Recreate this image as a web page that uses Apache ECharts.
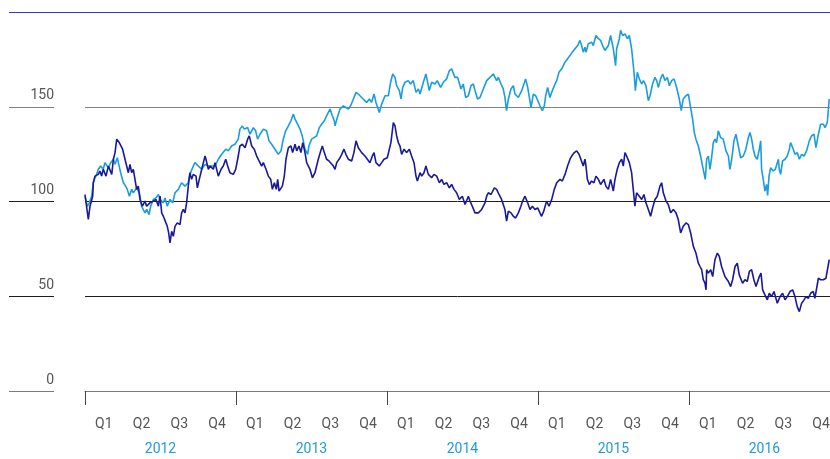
<!DOCTYPE html>
<html><head><meta charset="utf-8">
<script src="https://cdn.jsdelivr.net/npm/echarts@6/dist/echarts.min.js"></script>
<style>html,body{margin:0;padding:0;background:#fff}#c{width:830px;height:459px}</style>
</head><body><div id="c"></div>
<script>
const START = 2012;
const END = 2016.934;
const years = [2012, 2013, 2014, 2015, 2016];
const quarters = ['Q1', 'Q2', 'Q3', 'Q4'];
const yTicks = [0, 50, 100, 150, 200];

// time in years since 1 Jan 2012
const darkT = [0,.022,.033,.051,.055,.066,.088,.099,.110,.121,.139,.155,.177,.188,.199,.210,.216,.227,.236,.249,.265,.276,.287,.298,.309,.320,.331,.342,.353,.364,.380,.397,.408,.430,.453,.470,.486,.497,.508,.519,.536,.545,.554,.563,.574,.585,.596,.611,.629,.640,.651,.662,.673,.684,.695,.706,.717,.735,.744,.757,.773,.795,.801,.817,.828,.850,.861,.883,.901,.916,.932,.945,.960,.982,.998,
1.015,1.026,1.042,1.060,1.077,1.088,1.104,1.121,1.137,1.148,1.170,1.181,1.199,1.214,1.230,1.241,1.254,1.267,1.276,1.285,1.294,1.307,1.320,1.331,1.347,1.364,1.375,1.391,1.402,1.417,1.430,1.442,1.457,1.468,1.490,1.506,1.523,1.545,1.561,1.572,1.585,1.600,1.616,1.629,1.645,1.656,1.667,1.689,1.700,1.715,1.728,1.744,1.766,1.781,1.795,1.810,1.821,1.832,1.854,1.870,1.887,1.903,1.914,1.927,1.949,1.965,1.980,
2.002,2.015,2.026,2.042,2.053,2.064,2.075,2.086,2.097,2.113,2.130,2.148,2.163,2.179,2.192,2.201,2.219,2.230,2.245,2.258,2.274,2.296,2.311,2.329,2.347,2.362,2.377,2.395,2.413,2.428,2.444,2.461,2.479,2.483,2.499,2.517,2.539,2.550,2.565,2.583,2.605,2.627,2.649,2.660,2.671,2.689,2.711,2.726,2.742,2.759,2.781,2.792,2.804,2.821,2.837,2.852,2.870,2.887,2.898,2.914,2.932,2.947,2.963,2.980,2.998,
3.013,3.024,3.038,3.057,3.073,3.091,3.108,3.124,3.146,3.161,3.179,3.196,3.212,3.223,3.241,3.256,3.272,3.285,3.300,3.311,3.318,3.327,3.340,3.355,3.371,3.384,3.400,3.415,3.428,3.437,3.450,3.466,3.481,3.499,3.510,3.525,3.539,3.554,3.565,3.576,3.587,3.605,3.620,3.631,3.642,3.653,3.671,3.687,3.702,3.715,3.731,3.746,3.759,3.775,3.790,3.808,3.819,3.830,3.848,3.863,3.879,3.896,3.914,3.929,3.945,3.962,3.980,3.996,
4.011,4.029,4.046,4.062,4.073,4.084,4.095,4.106,4.113,4.117,4.128,4.144,4.157,4.172,4.188,4.201,4.216,4.238,4.261,4.276,4.289,4.305,4.320,4.333,4.355,4.371,4.386,4.400,4.415,4.430,4.444,4.466,4.477,4.488,4.503,4.519,4.532,4.547,4.563,4.585,4.603,4.620,4.636,4.651,4.669,4.687,4.702,4.717,4.731,4.746,4.762,4.775,4.790,4.806,4.823,4.834,4.857,4.872,4.890,4.907,4.918,4.929];
const darkV = [103.7,90.5,97.5,102.8,109.9,113.4,114.3,116.1,113.4,117.0,113.4,118.7,114.3,122.3,125.8,132.9,133.7,131.1,132.0,127.6,122.3,118.7,115.2,119.6,115.2,117.0,111.7,106.4,108.1,101.1,97.5,100.2,97.5,99.3,100.2,101.1,97.5,102.8,94.0,92.2,88.7,86.9,83.4,78.1,84.3,81.6,86.9,88.7,87.8,94.0,95.8,94.0,99.3,108.1,115.2,111.7,114.3,113.4,107.2,111.7,117.0,124.0,122.3,117.0,118.7,117.0,120.5,113.4,117.0,118.7,122.3,118.7,115.2,114.3,117.0,
124.0,129.3,130.2,128.4,132.9,134.6,129.3,127.6,124.0,124.9,118.7,120.5,117.0,113.4,111.7,106.4,109.9,106.4,111.7,105.5,104.6,108.1,113.4,122.3,128.4,129.3,125.8,130.2,126.7,129.3,125.8,131.1,125.8,120.5,117.0,112.5,115.2,122.3,126.7,129.3,125.8,122.3,121.4,122.3,118.7,117.0,120.5,123.1,124.9,127.6,124.9,122.3,121.4,125.8,132.0,128.4,129.3,125.8,124.0,122.3,120.5,124.0,125.8,120.5,118.7,120.5,122.3,
123.1,122.3,131.1,141.7,139.9,134.6,131.1,129.3,124.9,127.6,125.8,127.6,124.0,120.5,113.4,110.8,115.2,113.4,115.2,118.7,114.3,112.5,114.3,113.4,109.9,111.7,109.0,109.9,107.2,109.0,106.4,104.6,101.1,101.1,102.8,98.4,102.8,100.2,97.5,94.0,94.0,95.8,99.3,102.8,104.6,103.7,107.2,106.4,103.7,101.1,95.8,89.6,94.9,94.0,92.2,91.3,94.0,97.5,100.2,102.8,99.3,95.8,97.5,95.8,96.6,
94.0,92.2,94.9,100.2,97.5,101.1,106.4,109.9,111.7,110.8,114.3,118.7,122.3,124.0,125.8,126.7,124.9,125.8,118.7,122.3,118.7,111.7,109.0,110.8,109.9,113.4,111.7,109.0,108.1,111.7,108.1,106.4,111.7,105.5,111.7,117.0,120.5,122.3,118.7,125.8,124.0,120.5,115.2,106.4,97.5,104.6,102.8,101.1,103.7,99.3,95.8,92.2,96.6,101.1,102.8,108.1,109.9,104.6,100.2,98.4,94.0,95.8,94.0,90.5,83.4,86.9,88.7,87.8,
83.4,76.3,72.8,67.5,65.7,64.0,58.7,56.9,53.4,64.0,62.2,64.0,60.4,69.3,72.8,71.0,65.7,60.4,57.8,55.1,58.7,65.7,67.5,61.3,56.9,58.7,57.8,63.1,64.0,58.7,55.1,60.4,62.2,53.4,50.7,48.1,51.6,49.8,52.5,46.3,49.8,51.6,48.1,49.8,52.5,53.4,49.8,44.5,41.9,46.3,48.1,49.8,48.9,51.6,52.5,48.9,59.5,58.7,58.7,59.5,58.7,69.3];

const lightT = [0,.015,.029,.044,.055,.066,.077,.088,.104,.121,.132,.155,.170,.188,.199,.214,.221,.236,.254,.269,.280,.294,.309,.320,.342,.360,.375,.397,.408,.424,.435,.453,.470,.486,.497,.519,.530,.545,.563,.581,.596,.618,.640,.662,.684,.695,.717,.728,.751,.773,.795,.817,.828,.861,.883,.905,.932,.949,.971,.993,
1.015,1.026,1.042,1.055,1.077,1.093,1.115,1.130,1.143,1.159,1.181,1.203,1.219,1.236,1.258,1.269,1.280,1.298,1.313,1.329,1.347,1.364,1.380,1.391,1.408,1.424,1.439,1.457,1.475,1.483,1.501,1.512,1.534,1.552,1.567,1.585,1.600,1.623,1.638,1.651,1.656,1.671,1.689,1.711,1.744,1.759,1.773,1.795,1.810,1.832,1.843,1.865,1.883,1.898,1.914,1.927,1.949,1.965,1.987,
2.009,2.024,2.038,2.053,2.064,2.082,2.093,2.104,2.119,2.141,2.157,2.174,2.192,2.208,2.219,2.241,2.258,2.280,2.296,2.318,2.333,2.355,2.373,2.395,2.413,2.428,2.450,2.468,2.490,2.505,2.521,2.539,2.556,2.572,2.583,2.600,2.616,2.638,2.660,2.671,2.682,2.704,2.715,2.726,2.737,2.755,2.770,2.781,2.792,2.804,2.821,2.837,2.848,2.859,2.870,2.881,2.892,2.903,2.918,2.932,2.954,2.969,2.985,2.998,
3.013,3.029,3.042,3.051,3.064,3.079,3.095,3.108,3.124,3.139,3.157,3.179,3.196,3.212,3.227,3.245,3.263,3.278,3.289,3.300,3.311,3.318,3.333,3.355,3.366,3.384,3.400,3.415,3.428,3.444,3.466,3.481,3.499,3.514,3.521,3.539,3.547,3.561,3.576,3.592,3.605,3.620,3.636,3.645,3.658,3.671,3.687,3.698,3.715,3.731,3.742,3.759,3.775,3.786,3.797,3.812,3.826,3.841,3.857,3.870,3.885,3.901,3.918,3.936,3.949,3.962,3.980,3.996,
4.011,4.024,4.035,4.046,4.062,4.077,4.090,4.108,4.117,4.128,4.139,4.150,4.161,4.172,4.183,4.194,4.210,4.227,4.245,4.261,4.271,4.283,4.298,4.311,4.327,4.342,4.360,4.377,4.393,4.404,4.415,4.426,4.437,4.452,4.466,4.475,4.481,4.492,4.503,4.514,4.521,4.530,4.541,4.558,4.572,4.592,4.598,4.607,4.620,4.636,4.651,4.665,4.673,4.687,4.702,4.717,4.731,4.746,4.762,4.779,4.797,4.812,4.828,4.841,4.857,4.872,4.890,4.901,4.916,4.923,4.929];
const lightV = [102.8,97.5,99.3,102.8,109.9,112.5,114.3,117.0,118.7,117.0,120.5,117.8,120.5,122.3,119.6,123.1,120.5,115.2,109.9,108.1,106.4,102.8,106.4,104.6,107.2,104.6,97.5,94.0,95.8,93.1,97.5,101.1,101.9,103.7,101.1,99.3,101.9,97.5,101.1,99.3,104.6,106.4,109.9,108.1,109.9,114.3,118.7,120.5,118.7,117.0,119.6,118.7,119.6,118.7,122.3,124.9,127.6,126.7,129.3,130.2,
132.9,138.2,139.9,138.2,139.0,135.5,139.0,137.3,132.9,135.5,138.2,137.3,132.0,130.2,127.6,128.4,124.9,126.7,132.9,137.3,139.9,142.6,146.1,143.5,140.8,138.2,134.6,127.6,124.9,129.3,132.9,132.0,134.6,139.0,140.8,142.6,145.2,148.8,145.2,142.6,139.9,144.3,148.8,150.5,148.8,150.5,153.2,157.6,156.7,154.9,154.1,152.3,154.1,152.3,156.7,152.3,147.0,151.4,155.8,
155.8,162.9,167.3,165.5,161.1,158.5,154.1,160.2,162.9,163.8,162.0,163.8,157.6,159.4,156.7,162.9,167.3,158.5,162.9,162.0,163.8,160.2,162.9,164.7,169.1,170.0,165.5,165.5,159.4,162.0,154.9,155.8,161.1,162.0,158.5,154.1,154.9,159.4,163.8,162.9,165.5,167.3,166.4,163.8,165.5,162.0,159.4,154.9,147.9,154.1,159.4,161.1,156.7,157.6,154.9,154.1,158.5,161.1,164.7,160.2,149.6,156.7,155.8,156.7,
150.5,147.9,150.5,155.8,160.2,154.9,158.5,161.1,163.8,168.2,170.0,173.5,175.3,177.0,178.8,180.6,182.3,185.0,182.3,178.8,181.4,178.8,183.2,184.1,182.3,187.6,185.9,185.0,182.3,179.7,182.3,187.6,180.6,171.7,180.6,185.9,190.3,187.6,188.5,185.9,187.6,180.6,168.2,158.5,168.2,164.7,162.0,163.8,161.1,153.2,155.8,162.0,165.5,163.8,160.2,164.7,167.3,163.8,165.5,161.1,163.8,164.7,160.2,154.1,147.9,154.1,155.8,156.7,
149.6,143.5,136.4,132.9,129.3,124.0,118.7,111.7,122.3,124.0,117.0,123.1,131.1,132.9,131.1,137.3,133.7,132.9,126.7,124.0,117.0,122.3,132.0,135.5,129.3,123.1,124.0,127.6,133.7,136.4,132.9,127.6,124.0,122.3,127.6,132.0,117.0,111.7,105.5,109.0,103.2,113.4,117.8,116.1,117.0,122.3,117.0,114.3,121.4,122.3,124.0,127.6,131.1,128.4,124.9,125.8,122.3,124.9,124.0,126.7,132.0,134.6,135.5,128.4,135.5,140.8,140.8,139.0,141.7,142.6,154.1];

const darkData = darkT.map((t, i) => [START + t, darkV[i]]);
const lightData = lightT.map((t, i) => [START + t, lightV[i]]);

const lineColors = ['#7a7a7a', '#1e1e1e', '#1e1e1e', '#808080', '#3535c8'];
const FONT = 'Roboto, "Liberation Sans", sans-serif';
const TOP = 12, BOTTOM = 68;

const chart = echarts.init(document.getElementById('c'), null, {renderer: 'canvas'});
chart.setOption({
  animation: false,
  backgroundColor: '#fff',
  textStyle: {fontFamily: FONT},
  grid: [
    {left: 85, right: 0, top: TOP, bottom: BOTTOM, containLabel: false, outerBoundsMode: 'none'},
    {left: 9, width: 45, top: TOP, bottom: BOTTOM, containLabel: false, outerBoundsMode: 'none'},
    {left: 9, right: 0, top: TOP, bottom: BOTTOM, containLabel: false, outerBoundsMode: 'none'}
  ],
  xAxis: [
    {
      type: 'value', gridIndex: 0, position: 'bottom', min: START, max: END,
      axisLine: {show: true, lineStyle: {color: '#7a7a7a', width: 1}},
      axisTick: {show: true, customValues: years, length: 14, lineStyle: {color: '#444', width: 1}},
      axisLabel: {
        show: true,
        customValues: years.flatMap(y => quarters.map((q, i) => y + i * 0.25 + 0.125)),
        formatter: v => quarters[Math.floor((v - START) * 4 + 0.01) % 4],
        color: '#555', fontSize: 14, margin: 26, fontFamily: FONT,
        showMinLabel: true, showMaxLabel: true, hideOverlap: false
      },
      splitLine: {show: false}
    },
    {
      type: 'value', gridIndex: 0, position: 'bottom', min: START, max: END, offset: 25,
      axisLine: {show: false}, axisTick: {show: false},
      axisLabel: {
        show: true, customValues: years.map(y => y + 0.5),
        formatter: v => String(Math.floor(v)),
        color: '#1f9bd7', fontSize: 14, margin: 26, fontFamily: FONT
      },
      splitLine: {show: false}
    },
    {type: 'value', gridIndex: 1, min: 0, max: 1, show: false},
    {type: 'value', gridIndex: 2, min: 0, max: 1, show: false}
  ],
  yAxis: [
    {
      type: 'value', gridIndex: 0, min: 0, max: 200, interval: 50,
      axisLine: {show: false}, axisTick: {show: false}, axisLabel: {show: false},
      splitLine: {show: true, lineStyle: {color: lineColors, width: 1}}
    },
    {
      type: 'value', gridIndex: 1, min: 0, max: 200, interval: 50, position: 'right',
      axisLine: {show: false}, axisTick: {show: false},
      axisLabel: {
        show: true, inside: true, margin: 0, verticalAlign: 'bottom',
        padding: [0, 0, 4, 0],
        formatter: v => (v === 200 ? '' : String(v)),
        color: '#555', fontSize: 14, fontFamily: FONT
      },
      splitLine: {show: true, lineStyle: {color: lineColors, width: 1}}
    },
    {
      type: 'value', gridIndex: 2, min: 0, max: 200, interval: 200,
      axisLine: {show: false}, axisTick: {show: false}, axisLabel: {show: false},
      splitLine: {show: true, lineStyle: {color: ['rgba(0,0,0,0)', '#3535c8'], width: 1}}
    }
  ],
  series: [
    {
      name: 'light', type: 'line', xAxisIndex: 0, yAxisIndex: 0,
      data: lightData, showSymbol: false, symbol: 'none',
      lineStyle: {color: '#1a9ddc', width: 1.6}, itemStyle: {color: '#1a9ddc'}
    },
    {
      name: 'dark', type: 'line', xAxisIndex: 0, yAxisIndex: 0,
      data: darkData, showSymbol: false, symbol: 'none',
      lineStyle: {color: '#19199a', width: 1.6}, itemStyle: {color: '#19199a'}
    }
  ]
});
</script>
</body></html>
